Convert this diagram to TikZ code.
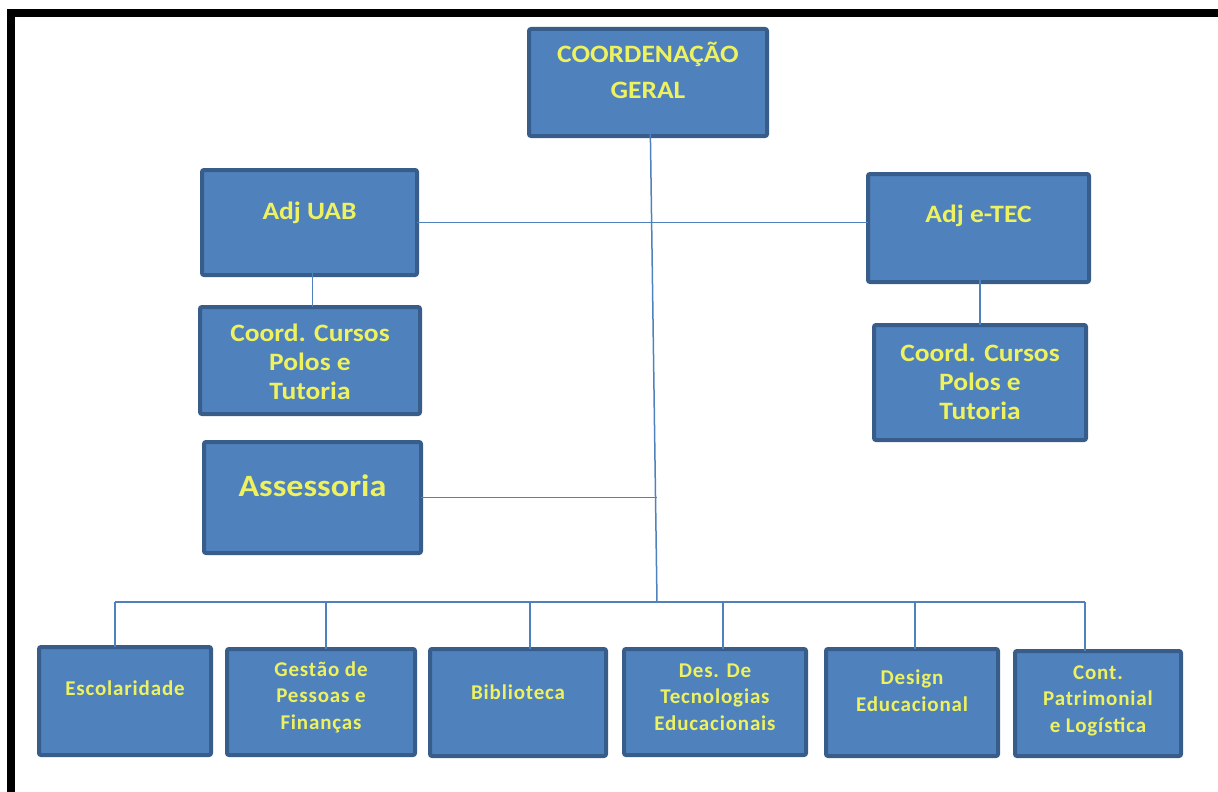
\documentclass[tikz,border=0pt]{standalone}
\usepackage{fontspec}
\setmainfont{Carlito}
\newfontfamily\tightfont[LetterSpace=4]{Carlito}
\newfontfamily\widefont[FakeStretch=1.1]{Carlito}
\usetikzlibrary{calc}
\definecolor{boxfill}{RGB}{79,129,189}
\definecolor{boxedge}{RGB}{56,93,138}
\definecolor{labelyellow}{RGB}{238,242,94}
\definecolor{linkblue}{RGB}{79,129,189}

\begin{document}
\begin{tikzpicture}[x=1pt,y=-1pt,
  unit/.style={draw=boxedge, line width=4pt, fill=boxfill, rounded corners=2pt,
               inner sep=0pt, outer sep=0pt},
  boxtext/.style={text=labelyellow, align=center, inner sep=0pt},
  upper/.style={boxtext, font=\widefont\bfseries\fontsize{25}{29}\selectfont},
  lower/.style={boxtext, font=\tightfont\bfseries\fontsize{21}{26.5}\selectfont},
  link/.style={draw=linkblue, line width=1.5pt}]

\useasboundingbox (0,0) rectangle (1218,792);
\clip (0,0) rectangle (1218,792);

% outer frame (runs past the right and bottom edges)
\draw[line width=8pt] (11,13.5) rectangle (1260,830);

% top level
\node[unit, minimum width=238, minimum height=107,
      label={[upper, font=\widefont\bfseries\fontsize{25}{36}\selectfont, yshift=12]center:{COORDENAÇÃO\\GERAL}}]
  (cg) at (648,82.5) {};

% deputies and their course coordinations
\node[unit, minimum width=215, minimum height=105,
      label={[upper, yshift=10]center:{Adj UAB}}] (uab) at (309.5,222.5) {};
\node[unit, minimum width=220, minimum height=107,
      label={[upper, yshift=-1]center:{Coord. Cursos\\Polos e\\Tutoria}}] (cuab) at (310,360.5) {};
\node[unit, minimum width=221, minimum height=108,
      label={[upper, yshift=12]center:{Adj e-TEC}}] (etec) at (978.5,228) {};
\node[unit, minimum width=212, minimum height=115,
      label={[upper, yshift=1]center:{Coord. Cursos\\Polos e\\Tutoria}}] (cetec) at (980,382.5) {};
\node[unit, minimum width=217, minimum height=111,
      label={[upper, font=\widefont\bfseries\fontsize{31}{36}\selectfont, yshift=12]center:{Assessoria}}] (ass) at (312.5,497.5) {};

% sectors
\node[unit, minimum width=172, minimum height=108,
      label={[lower, yshift=13]center:{Escolaridade}}] (esc) at (125,701) {};
\node[unit, minimum width=188, minimum height=106,
      label={[lower, yshift=5]center:{Gestão de\\Pessoas e\\Finanças}}] (ges) at (321,702) {};
\node[unit, minimum width=176, minimum height=107,
      label={[lower, yshift=10]center:{Biblioteca}}] (bib) at (518,702.5) {};
\node[unit, minimum width=182, minimum height=106,
      label={[lower, yshift=5]center:{Des. De\\Tecnologias\\Educacionais}}] (des) at (715,702) {};
\node[unit, minimum width=172, minimum height=107,
      label={[lower, yshift=12]center:{Design\\Educacional}}] (dsg) at (912,702.5) {};
\node[unit, minimum width=166, minimum height=105,
      label={[lower, yshift=3]center:{Cont.\\Patrimonial\\e Logística}}] (cont) at (1098,703.5) {};

% main trunk
\coordinate (trunktop) at ($(cg.center)+(2,25.5)$);
\coordinate (bus) at (657,602);
\draw[link] (trunktop) -- (bus);

% deputies
\draw[link] (uab.east) -- (uab.east -| etec.west);
\draw[link] (uab.south) ++(3,-20) coordinate (u) -- (u |- cuab.north);
\draw[link] (etec.south) ++(1.5,-14) coordinate (e) -- (e |- cetec.north);
\draw[link] (ass.east) -- (ass.east -| bus);

% sector bus and drops
\draw[link] (esc.north)  ++(-10,0) coordinate (dEsc)  -- (dEsc |- bus);
\draw[link] (ges.north)  ++(5,0)   coordinate (dGes)  -- (dGes |- bus);
\draw[link] (bib.north)  ++(12,0)  coordinate (dBib)  -- (dBib |- bus);
\draw[link] (des.north)  ++(8,0)   coordinate (dDes)  -- (dDes |- bus);
\draw[link] (dsg.north)  ++(3,0)   coordinate (dDsg)  -- (dDsg |- bus);
\draw[link] (cont.north) ++(-13,0) coordinate (dCont) -- (dCont |- bus);
\draw[link] (dEsc |- bus) -- (dCont |- bus);

\end{tikzpicture}
\end{document}
